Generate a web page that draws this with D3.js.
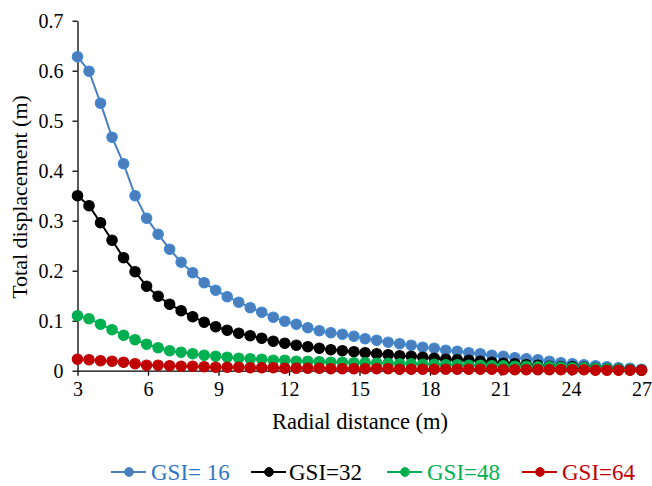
<!DOCTYPE html>
<meta charset="utf-8">
<head>
    <script src="https://d3js.org/d3.v7.min.js"></script>
    <style>
        body { margin: 0; background: white; }
        svg text { font-family: "Liberation Serif", Tinos, serif; }
    </style>
</head>
<body>
<div id="my_dataviz"></div>
<script>
    // radial distance (m), 50 points from 3 to 27
    const radial = [3, 3.49, 3.98, 4.47, 4.96, 5.45, 5.94, 6.43, 6.92, 7.41,
        7.90, 8.39, 8.88, 9.37, 9.86, 10.35, 10.84, 11.33, 11.82, 12.31,
        12.80, 13.29, 13.78, 14.27, 14.76, 15.24, 15.73, 16.22, 16.71, 17.20,
        17.69, 18.18, 18.67, 19.16, 19.65, 20.14, 20.63, 21.12, 21.61, 22.10,
        22.59, 23.08, 23.57, 24.06, 24.55, 25.04, 25.53, 26.02, 26.51, 27];

    const gsi16 = [0.628, 0.599, 0.535, 0.467, 0.414, 0.350, 0.305, 0.273, 0.243, 0.217,
        0.196, 0.176, 0.161, 0.148, 0.137, 0.126, 0.117, 0.107, 0.099, 0.093,
        0.086, 0.080, 0.076, 0.073, 0.069, 0.064, 0.061, 0.057, 0.054, 0.051,
        0.047, 0.045, 0.041, 0.039, 0.036, 0.034, 0.031, 0.029, 0.026, 0.024,
        0.022, 0.019, 0.016, 0.014, 0.012, 0.010, 0.008, 0.006, 0.005, 0.003];

    const gsi32 = [0.350, 0.330, 0.296, 0.261, 0.226, 0.198, 0.169, 0.149, 0.133, 0.120,
        0.108, 0.097, 0.088, 0.081, 0.075, 0.070, 0.065, 0.059, 0.055, 0.051,
        0.048, 0.045, 0.042, 0.040, 0.038, 0.036, 0.034, 0.032, 0.030, 0.029,
        0.027, 0.025, 0.023, 0.022, 0.021, 0.019, 0.017, 0.015, 0.014, 0.012,
        0.011, 0.009, 0.008, 0.008, 0.007, 0.005, 0.004, 0.003, 0.002, 0.001];

    const gsi48 = [0.110, 0.104, 0.093, 0.082, 0.071, 0.062, 0.053, 0.046, 0.040, 0.037,
        0.034, 0.031, 0.029, 0.027, 0.025, 0.024, 0.023, 0.021, 0.021, 0.019,
        0.019, 0.018, 0.017, 0.017, 0.016, 0.016, 0.015, 0.015, 0.014, 0.014,
        0.013, 0.013, 0.012, 0.012, 0.011, 0.011, 0.010, 0.010, 0.009, 0.009,
        0.008, 0.008, 0.007, 0.006, 0.006, 0.005, 0.004, 0.003, 0.002, 0.001];

    const gsi64 = [0.023, 0.022, 0.020, 0.019, 0.017, 0.014, 0.011, 0.011, 0.010, 0.009,
        0.009, 0.008, 0.007, 0.007, 0.007, 0.006, 0.006, 0.006, 0.005, 0.005,
        0.005, 0.005, 0.004, 0.004, 0.004, 0.004, 0.004, 0.004, 0.003, 0.003,
        0.003, 0.003, 0.003, 0.003, 0.003, 0.003, 0.003, 0.002, 0.002, 0.002,
        0.002, 0.002, 0.002, 0.002, 0.002, 0.001, 0.001, 0.001, 0.001, 0.001];

    const xTicks = [3, 6, 9, 12, 15, 18, 21, 24, 27];
    const yTicks = [0, 0.1, 0.2, 0.3, 0.4, 0.5, 0.6, 0.7];

    const seriesData = [
        { label: "GSI= 16", values: gsi16, color: "#4a7ebd", stroke: "#3d8ad8", text: "#2e75c6" },
        { label: "GSI=32", values: gsi32, color: "#000000", stroke: "#000000", text: "#000000" },
        { label: "GSI=48", values: gsi48, color: "#00b050", stroke: "#00b050", text: "#00b050" },
        { label: "GSI=64", values: gsi64, color: "#c00000", stroke: "#c00000", text: "#c00000" }
    ];

    const width = 652, height = 486;
    const svg = d3.select("#my_dataviz").append("svg")
        .attr("width", width)
        .attr("height", height)
        .style("background-color", "white");

    const x = d3.scaleLinear().domain([3, 27]).range([77.5, 641.5]);
    const y = d3.scaleLinear().domain([0, 0.7]).range([370.7, 20.7]);

    // axes
    const bottomAxis = d3.axisBottom(x)
        .tickValues(xTicks)
        .tickSize(5)
        .tickSizeOuter(0)
        .tickPadding(6)
        .tickFormat(d3.format("d"));

    const leftAxis = d3.axisLeft(y)
        .tickValues(yTicks)
        .tickSize(5)
        .tickSizeOuter(0)
        .tickPadding(9)
        .tickFormat(d => d === 0 ? "0" : d3.format(".1f")(d));

    const gx = svg.append("g")
        .attr("transform", `translate(0, ${y(0)})`)
        .call(bottomAxis);

    const gy = svg.append("g")
        .attr("transform", `translate(${x(3)}, 0)`)
        .call(leftAxis);

    [gx, gy].forEach(g => {
        g.attr("font-size", 20);
        g.select(".domain").attr("stroke", "#000").attr("stroke-width", 1.3);
        g.selectAll(".tick line").attr("stroke", "#000").attr("stroke-width", 1.3);
        g.selectAll(".tick text").attr("fill", "#000");
    });

    // axis titles
    svg.append("text")
        .attr("x", 360)
        .attr("y", 429)
        .attr("text-anchor", "middle")
        .attr("font-size", 22.5)
        .text("Radial distance (m)");

    svg.append("text")
        .attr("transform", `translate(27, 197) rotate(-90)`)
        .attr("text-anchor", "middle")
        .attr("font-size", 22)
        .text("Total displacement (m)");

    // series, drawn back to front (red on top)
    const line = d3.line()
        .x((d, i) => x(radial[i]))
        .y(d => y(d));

    seriesData.forEach(s => {
        const g = svg.append("g");
        g.append("path")
            .datum(s.values)
            .attr("fill", "none")
            .attr("stroke", s.color)
            .attr("stroke-width", 2)
            .attr("d", line);

        g.selectAll("circle")
            .data(s.values)
            .enter()
            .append("circle")
            .attr("cx", (d, i) => x(radial[i]))
            .attr("cy", d => y(d))
            .attr("r", 5.2)
            .attr("fill", s.color)
            .attr("stroke", s.stroke)
            .attr("stroke-width", 1.2);
    });

    // legend
    const legendX = [111, 251, 387, 522];
    const legend = svg.append("g").attr("class", "legend");

    seriesData.forEach((s, i) => {
        const lx = legendX[i];
        legend.append("line")
            .attr("x1", lx)
            .attr("x2", lx + 35)
            .attr("y1", 472)
            .attr("y2", 472)
            .attr("stroke", s.color)
            .attr("stroke-width", 2);
        legend.append("circle")
            .attr("cx", lx + 18)
            .attr("cy", 472)
            .attr("r", 4.4)
            .attr("fill", s.color)
            .attr("stroke", s.stroke);
        legend.append("text")
            .attr("x", lx + (i === 1 ? 38 : 40))
            .attr("y", 479.5)
            .attr("fill", s.text)
            .attr("font-size", 23)
            .text(s.label);
    });
</script>
</body>
